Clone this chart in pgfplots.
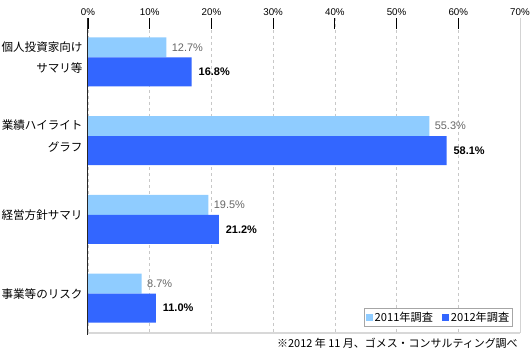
\documentclass[border=0pt]{standalone}
\usepackage{fontspec}
\setmainfont{Liberation Sans}
\newfontfamily\jp{Noto Sans CJK JP}
\usepackage{pgfplots}
\pgfplotsset{compat=1.18}
\definecolor{lightb}{RGB}{143,204,255}
\definecolor{darkb}{RGB}{51,102,255}
\definecolor{gridg}{RGB}{200,200,200}
\begin{document}
\begin{tikzpicture}
\useasboundingbox (-88bp,-18bp) rectangle (442bp,333bp);
\begin{axis}[
  scale only axis, width=432bp, height=315bp,
  xmin=0, xmax=70, ymin=0, ymax=4, y dir=reverse,
  xbar,
  axis line style={draw=none},
  xtick={0,10,...,70},
  xticklabels={0\%,10\%,20\%,30\%,40\%,50\%,60\%,70\%},
  xtick pos=upper, xticklabel pos=upper,
  tick align=inside, major tick length=11bp,
  xtick style={black, line width=0.8bp},
  xticklabel style={font=\fontsize{9.8}{10}\selectfont, yshift=-1.5bp},
  xmajorgrids, grid style={gridg, dashed, line width=0.6bp},
  ytick={0.5,1.5,2.5,3.5},
  yticklabels={{個人投資家向け\\サマリ等},{業績ハイライト\\グラフ},経営方針サマリ,事業等のリスク},
  yticklabel style={font=\jp\fontsize{11.6}{21.5}\selectfont, align=right, xshift=-2bp},
  ytick style={draw=none},
  legend image code/.code={\path[#1] (1bp,-3.5bp) rectangle (8bp,3.5bp);},
  legend columns=2,
  legend style={at={(rel axis cs:0.984,0.019)}, anchor=south east, draw=gray!70, line width=0.8bp,
    font=\jp\fontsize{11.2}{12}\selectfont, inner sep=1.5bp,
    /tikz/every even column/.append style={column sep=7bp}},
  clip=false,
]
\addplot[fill=lightb, draw=none, bar width=0.254, bar shift=-0.127,
  nodes near coords={\pgfmathprintnumber[fixed,fixed zerofill,precision=1,assume math mode=true]{\pgfplotspointmeta}\%},
  every node near coord/.append style={anchor=west, xshift=2bp, text=black!60, font=\fontsize{11}{12}\selectfont}]
  coordinates {(12.7,0.5) (55.3,1.5) (19.5,2.5) (8.7,3.5)};
\addlegendentry{2011年調査}
\addplot[fill=darkb, draw=none, bar width=0.368, bar shift=0.184,
  nodes near coords={\pgfmathprintnumber[fixed,fixed zerofill,precision=1,assume math mode=true]{\pgfplotspointmeta}\%},
  every node near coord/.append style={anchor=west, xshift=3.5bp, text=black, font=\bfseries\fontsize{11}{12}\selectfont}]
  coordinates {(16.8,0.5) (58.1,1.5) (21.2,2.5) (11.0,3.5)};
\addlegendentry{2012年調査}
\draw[gridg!80, line width=0.8bp] (axis cs:70,0) -- (axis cs:70,4);
\draw[gridg!70, line width=1.6bp] (axis cs:0,4) -- (axis cs:70,4);
\draw[black!85, line width=1bp] (axis cs:0,0) -- (axis cs:0,4.02);
\node[anchor=east, inner sep=0pt, font=\jp\fontsize{11}{12}\selectfont] at ([yshift=-10bp]rel axis cs:0.995,0) {※2012 年 11 月、ゴメス・コンサルティング調べ};
\end{axis}
\end{tikzpicture}
\end{document}
